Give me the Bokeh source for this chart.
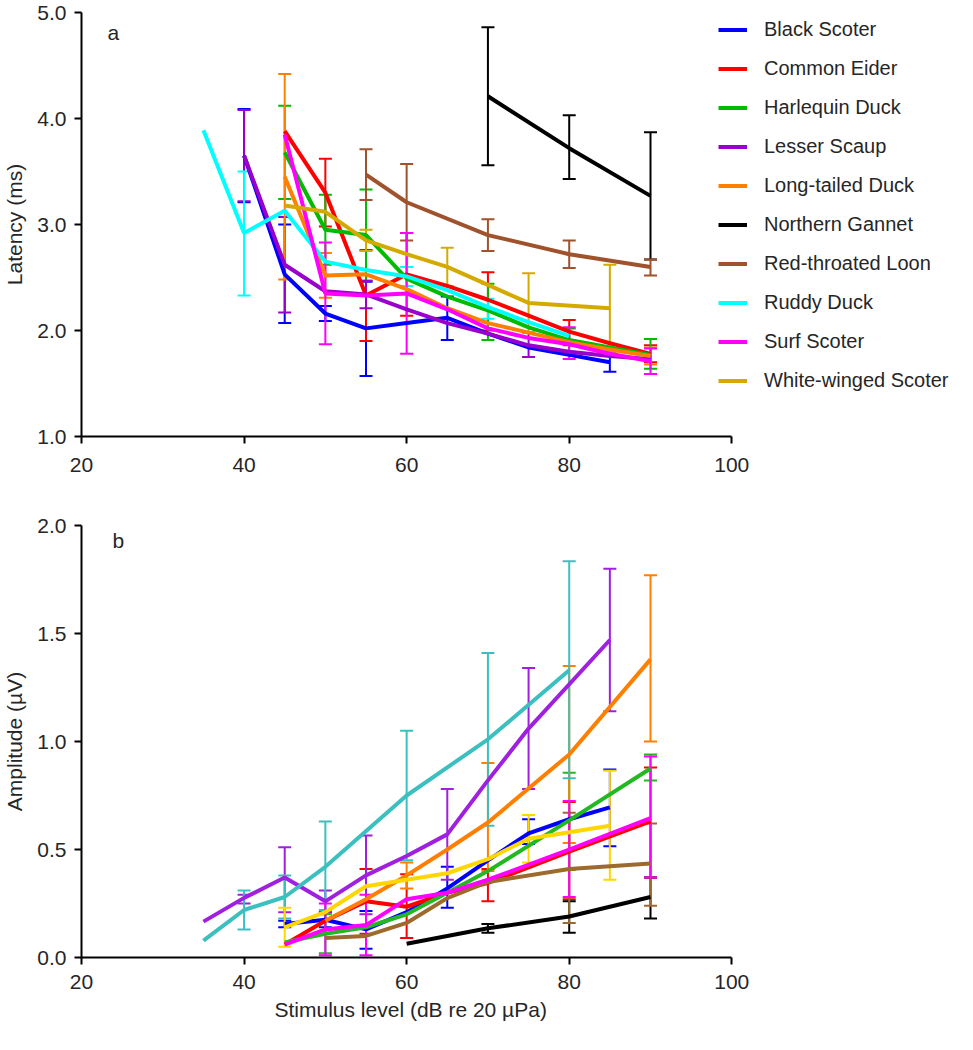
from bokeh.plotting import figure
from bokeh.layouts import column
from bokeh.models import (ColumnDataSource, Whisker, TeeHead, Legend, LegendItem,
                          Label, FixedTicker, NumeralTickFormatter, Range1d, Title)
from bokeh.embed import file_html
from bokeh.resources import INLINE

species = ["Black Scoter", "Common Eider", "Harlequin Duck", "Lesser Scaup",
           "Long-tailed Duck", "Northern Gannet", "Red-throated Loon",
           "Ruddy Duck", "Surf Scoter", "White-winged Scoter"]
colors_a = ["#0000FF", "#FF0000", "#00BB00", "#9900CC", "#FF8000",
            "#000000", "#A0522D", "#00FFFF", "#FF00FF", "#D4AA00"]
colors_b = ["#0000FF", "#FF0000", "#22B822", "#A020E0", "#FF8000",
            "#000000", "#9C6A2C", "#3CBFBF", "#FF00FF", "#FFD700"]

x_ticks = [20, 40, 60, 80, 100]
lat_ticks = [1.0, 2.0, 3.0, 4.0, 5.0]
amp_ticks = [0.0, 0.5, 1.0, 1.5, 2.0]

# ---- panel a: latency (ms) ----
bs_lat_x = [40, 45, 50, 55, 60, 65, 70, 75, 80, 85]
bs_lat_y = [3.65, 2.53, 2.16, 2.02, 2.07, 2.12, 1.97, 1.84, 1.77, 1.70]
bs_lat_lo = [3.21, 2.07, 2.09, 1.57, None, 1.91, None, None, None, 1.61]
bs_lat_hi = [4.09, 3.00, 2.23, 2.46, None, 2.32, None, None, None, 1.80]

ce_lat_x = [45, 50, 55, 60, 65, 70, 75, 80, 85, 90]
ce_lat_y = [3.88, 3.30, 2.33, 2.53, 2.42, 2.29, 2.14, 1.99, 1.88, 1.78]
ce_lat_lo = [None, 2.98, 1.90, 2.14, None, 2.00, None, 1.86, None, 1.70]
ce_lat_hi = [None, 3.62, 2.76, 2.92, None, 2.55, None, 2.10, None, 1.86]

hd_lat_x = [45, 50, 55, 60, 65, 70, 75, 80, 85, 90]
hd_lat_y = [3.68, 2.95, 2.90, 2.49, 2.32, 2.19, 2.03, 1.91, 1.84, 1.77]
hd_lat_lo = [3.24, 2.62, 2.47, None, None, 1.91, None, 1.80, None, 1.64]
hd_lat_hi = [4.12, 3.28, 3.33, None, None, 2.44, None, 2.02, None, 1.92]

ls_lat_x = [40, 45, 50, 55, 60, 65, 70, 75, 80, 85, 90]
ls_lat_y = [3.65, 2.62, 2.37, 2.34, 2.20, 2.07, 1.97, 1.86, 1.80, 1.76, 1.73]
ls_lat_lo = [3.22, 2.17, None, 2.21, None, None, None, 1.75, None, None, None]
ls_lat_hi = [4.08, 3.07, None, 2.47, None, None, None, 1.98, None, None, None]

ltd_lat_x = [45, 50, 55, 60, 65, 70, 75, 80, 85, 90]
ltd_lat_y = [3.45, 2.52, 2.53, 2.39, 2.21, 2.07, 1.98, 1.89, 1.82, 1.76]
ltd_lat_lo = [2.48, 2.31, None, None, None, None, None, None, None, 1.68]
ltd_lat_hi = [4.42, 2.73, None, None, None, None, None, None, None, 1.84]

ng_lat_x = [70, 80, 90]
ng_lat_y = [4.21, 3.72, 3.27]
ng_lat_lo = [3.56, 3.43, 2.67]
ng_lat_hi = [4.86, 4.03, 3.87]

rtl_lat_x = [55, 60, 70, 80, 90]
rtl_lat_y = [3.47, 3.21, 2.90, 2.72, 2.60]
rtl_lat_lo = [3.23, 2.85, 2.75, 2.59, 2.52]
rtl_lat_hi = [3.71, 3.57, 3.05, 2.85, 2.67]

rd_lat_x = [35, 40, 45, 50, 55, 60, 65, 70, 75, 80]
rd_lat_y = [3.89, 2.92, 3.13, 2.65, 2.57, 2.51, 2.38, 2.22, 2.08, 1.95]
rd_lat_lo = [None, 2.33, None, None, None, 2.42, None, 2.11, None, None]
rd_lat_hi = [None, 3.50, None, None, None, 2.60, None, 2.30, None, None]

ss_lat_x = [45, 50, 55, 60, 65, 70, 75, 80, 85, 90]
ss_lat_y = [3.85, 2.35, 2.33, 2.35, 2.20, 2.02, 1.93, 1.87, 1.78, 1.71]
ss_lat_lo = [None, 1.87, None, 1.78, None, None, None, 1.73, None, 1.59]
ss_lat_hi = [None, 2.83, None, 2.92, None, None, None, 2.03, None, 1.83]

wws_lat_x = [45, 50, 55, 60, 65, 70, 75, 85]
wws_lat_y = [3.18, 3.12, 2.85, 2.72, 2.60, 2.43, 2.26, 2.21]
wws_lat_lo = [None, None, 2.75, None, 2.42, None, 1.98, 1.80]
wws_lat_hi = [None, None, 2.95, None, 2.78, None, 2.54, 2.62]

# ---- panel b: amplitude (uV) ----
bs_amp_x = [45, 50, 55, 60, 65, 70, 75, 80, 85]
bs_amp_y = [0.155, 0.175, 0.13, 0.21, 0.32, 0.45, 0.575, 0.64, 0.695]
bs_amp_lo = [0.14, 0.14, 0.04, None, 0.23, None, 0.525, None, 0.515]
bs_amp_hi = [0.17, 0.21, 0.215, None, 0.42, None, 0.64, None, 0.87]

ce_amp_x = [45, 50, 55, 60, 65, 70, 80, 90]
ce_amp_y = [0.06, 0.17, 0.26, 0.235, 0.30, 0.345, 0.49, 0.63]
ce_amp_lo = [None, None, 0.11, 0.09, None, 0.26, 0.27, 0.37]
ce_amp_hi = [None, None, 0.41, 0.385, None, 0.41, 0.72, 0.88]

hd_amp_x = [45, 50, 55, 60, 65, 70, 80, 90]
hd_amp_y = [0.07, 0.11, 0.14, 0.20, 0.30, 0.40, 0.635, 0.875]
hd_amp_lo = [None, 0.02, None, None, None, None, 0.405, 0.82]
hd_amp_hi = [None, 0.20, None, None, None, None, 0.855, 0.94]

ls_amp_x = [35, 40, 45, 50, 55, 60, 65, 70, 75, 85]
ls_amp_y = [0.166, 0.276, 0.37, 0.26, 0.38, 0.47, 0.57, 0.82, 1.06, 1.47]
ls_amp_lo = [None, 0.25, 0.21, 0.21, 0.20, None, 0.36, None, 0.78, 1.14]
ls_amp_hi = [None, 0.29, 0.51, 0.31, 0.565, None, 0.78, None, 1.34, 1.80]

ltd_amp_x = [50, 55, 60, 65, 70, 80, 90]
ltd_amp_y = [0.17, 0.27, 0.38, 0.50, 0.625, 0.94, 1.38]
ltd_amp_lo = [None, None, 0.32, None, 0.40, 0.53, 1.00]
ltd_amp_hi = [None, None, 0.44, None, 0.90, 1.35, 1.77]

ng_amp_x = [60, 70, 80, 90]
ng_amp_y = [0.064, 0.135, 0.19, 0.28]
ng_amp_lo = [None, 0.115, 0.115, 0.18]
ng_amp_hi = [None, 0.155, 0.26, 0.37]

rtl_amp_x = [50, 55, 60, 65, 70, 80, 90]
rtl_amp_y = [0.09, 0.10, 0.16, 0.275, 0.35, 0.41, 0.435]
rtl_amp_lo = [None, None, None, None, None, 0.16, 0.24]
rtl_amp_hi = [None, None, None, None, None, 0.67, 0.62]

rd_amp_x = [35, 40, 45, 50, 60, 70, 80]
rd_amp_y = [0.078, 0.22, 0.28, 0.42, 0.75, 1.01, 1.33]
rd_amp_lo = [None, 0.13, 0.18, 0.22, 0.45, 0.61, 0.83]
rd_amp_hi = [None, 0.31, 0.38, 0.63, 1.05, 1.41, 1.835]

ss_amp_x = [45, 50, 55, 60, 65, 70, 80, 90]
ss_amp_y = [0.06, 0.13, 0.15, 0.27, 0.30, 0.36, 0.50, 0.645]
ss_amp_lo = [None, 0.01, 0.01, None, None, None, 0.28, 0.37]
ss_amp_hi = [None, 0.25, 0.29, None, None, None, 0.725, 0.93]

wws_amp_x = [45, 50, 55, 60, 65, 70, 75, 85]
wws_amp_y = [0.14, 0.21, 0.33, 0.36, 0.39, 0.455, 0.55, 0.61]
wws_amp_lo = [0.05, None, None, None, None, None, 0.44, 0.36]
wws_amp_hi = [0.23, None, None, None, None, None, 0.66, 0.865]

lat_series = [
    (bs_lat_x, bs_lat_y, bs_lat_lo, bs_lat_hi),
    (ce_lat_x, ce_lat_y, ce_lat_lo, ce_lat_hi),
    (hd_lat_x, hd_lat_y, hd_lat_lo, hd_lat_hi),
    (ls_lat_x, ls_lat_y, ls_lat_lo, ls_lat_hi),
    (ltd_lat_x, ltd_lat_y, ltd_lat_lo, ltd_lat_hi),
    (ng_lat_x, ng_lat_y, ng_lat_lo, ng_lat_hi),
    (rtl_lat_x, rtl_lat_y, rtl_lat_lo, rtl_lat_hi),
    (rd_lat_x, rd_lat_y, rd_lat_lo, rd_lat_hi),
    (ss_lat_x, ss_lat_y, ss_lat_lo, ss_lat_hi),
    (wws_lat_x, wws_lat_y, wws_lat_lo, wws_lat_hi),
]
amp_series = [
    (bs_amp_x, bs_amp_y, bs_amp_lo, bs_amp_hi),
    (ce_amp_x, ce_amp_y, ce_amp_lo, ce_amp_hi),
    (hd_amp_x, hd_amp_y, hd_amp_lo, hd_amp_hi),
    (ls_amp_x, ls_amp_y, ls_amp_lo, ls_amp_hi),
    (ltd_amp_x, ltd_amp_y, ltd_amp_lo, ltd_amp_hi),
    (ng_amp_x, ng_amp_y, ng_amp_lo, ng_amp_hi),
    (rtl_amp_x, rtl_amp_y, rtl_amp_lo, rtl_amp_hi),
    (rd_amp_x, rd_amp_y, rd_amp_lo, rd_amp_hi),
    (ss_amp_x, ss_amp_y, ss_amp_lo, ss_amp_hi),
    (wws_amp_x, wws_amp_y, wws_amp_lo, wws_amp_hi),
]

FONT = "Liberation Sans"
TXT = "#262626"
W = 957            # figure width: page 973 minus the two 8px margins
LEFT = 76          # frame starts at page x = 84
X_END = 20 + (W - LEFT) * 80 / 654   # 20..100 spans 654 px; extra room holds the legend


def style(p, yticks):
    p.outline_line_color = None
    p.xgrid.visible = False
    p.ygrid.visible = False
    p.background_fill_color = "white"
    p.border_fill_color = "white"
    for ax in (p.xaxis[0], p.yaxis[0]):
        ax.axis_line_width = 2
        ax.axis_line_color = "black"
        ax.major_tick_line_width = 2
        ax.major_tick_line_color = "black"
        ax.major_tick_out = 7
        ax.major_tick_in = 0
        ax.minor_tick_line_color = None
        ax.major_label_text_font = FONT
        ax.major_label_text_font_size = "21px"
        ax.major_label_text_color = TXT
        ax.axis_label_text_font = FONT
        ax.axis_label_text_font_size = "21px"
        ax.axis_label_text_font_style = "normal"
        ax.axis_label_text_color = TXT
    p.xaxis[0].bounds = (20, 100)
    p.xaxis[0].ticker = FixedTicker(ticks=x_ticks, minor_ticks=[])
    p.yaxis[0].ticker = FixedTicker(ticks=yticks, minor_ticks=[])
    p.yaxis[0].formatter = NumeralTickFormatter(format="0.0")
    p.yaxis[0].major_label_standoff = 8
    p.yaxis[0].axis_label_standoff = 8


def draw(p, series, colors):
    rends = []
    for (xs, ys, lo, hi), c in zip(series, colors):
        r = p.line(xs, ys, line_color=c, line_width=4)
        rends.append(r)
        bx = [x for x, l in zip(xs, lo) if l is not None]
        bl = [l for l in lo if l is not None]
        bh = [h for h in hi if h is not None]
        if bx:
            src = ColumnDataSource(dict(base=bx, lower=bl, upper=bh))
            w = Whisker(source=src, base="base", lower="lower", upper="upper",
                        dimension="height", line_color=c, line_width=2,
                        upper_head=TeeHead(size=13, line_color=c, line_width=2),
                        lower_head=TeeHead(size=13, line_color=c, line_width=2))
            p.add_layout(w)
    return rends


# ---- top figure (page y 8..508, frame 20..444) ----
p1 = figure(width=W, height=500, output_backend="svg", toolbar_location=None,
            x_range=Range1d(20, X_END), y_range=Range1d(1.0, 5.0),
            min_border_left=LEFT, min_border_right=0, min_border_top=12,
            min_border_bottom=64)
style(p1, lat_ticks)
p1.xaxis[0].major_label_standoff = 14
p1.yaxis[0].axis_label = "Latency (ms)"
r1 = draw(p1, lat_series, colors_a)
p1.add_layout(Label(x=23.2, y=4.81, text="a", text_font=FONT, text_font_size="21px",
                    text_color=TXT, text_baseline="middle"))

legend = Legend(items=[LegendItem(label=s, renderers=[r]) for s, r in zip(species, r1)],
                location=(637, 36), orientation="vertical",
                glyph_width=29, glyph_height=39, label_height=39, spacing=0,
                label_standoff=17, padding=0, margin=0,
                label_text_font=FONT, label_text_font_size="20px", label_text_color=TXT,
                border_line_color=None, background_fill_alpha=0)
p1.add_layout(legend)

# ---- bottom figure (page y 508..1033, frame 533..965) ----
p2 = figure(width=W, height=525, output_backend="svg", toolbar_location=None,
            x_range=Range1d(20, X_END), y_range=Range1d(0.0, 2.0),
            min_border_left=LEFT, min_border_right=0, min_border_top=25,
            min_border_bottom=68)
style(p2, amp_ticks)
p2.xaxis[0].major_label_standoff = 10
p2.yaxis[0].axis_label = "Amplitude (µV)"
# x-axis title centred under the 20..100 axis (not under the whole frame)
p2.add_layout(Title(text="Stimulus level (dB re 20 µPa)", align="left", offset=193,
                    standoff=8, text_font=FONT, text_font_size="21px",
                    text_font_style="normal", text_color=TXT), "below")
draw(p2, amp_series, colors_b)
p2.add_layout(Label(x=23.8, y=1.93, text="b", text_font=FONT, text_font_size="21px",
                    text_color=TXT, text_baseline="middle"))

layout = column(p1, p2, spacing=0)
open("out.html", "w").write(file_html(layout, INLINE))
